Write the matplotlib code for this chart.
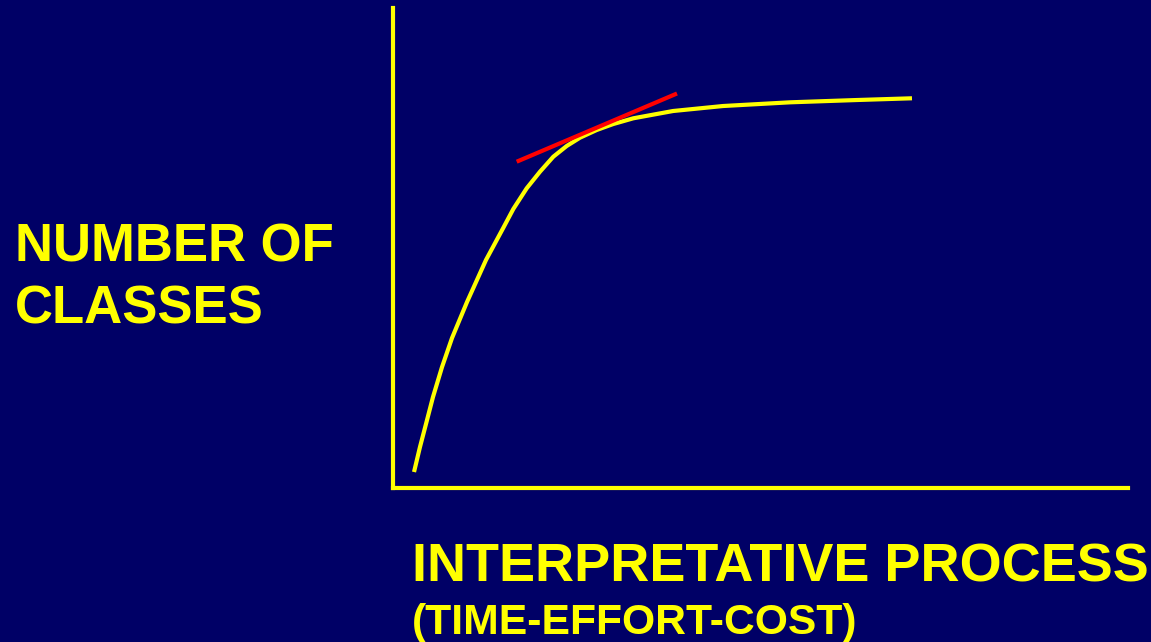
import matplotlib
matplotlib.use("Agg")
import matplotlib.pyplot as plt

# curve (x: effort, y: classes, both 0-100 along the axes)
effort = [2.86, 3.67, 4.63, 5.44, 6.67, 8.03, 10.07, 12.65, 14.97, 16.37, 18.19, 20.00,
          21.81, 23.63, 25.44, 27.71, 29.97, 32.69, 38.10, 44.90, 54.01, 63.13, 70.61]
classes = [3.33, 8.54, 14.17, 18.96, 25.21, 31.25, 38.75, 47.50, 54.10, 58.13, 62.44, 65.90,
           69.02, 71.25, 72.98, 74.58, 75.83, 77.02, 78.54, 79.58, 80.35, 80.83, 81.19]

# red tangent line
tangent_x = [16.83, 38.64]
tangent_y = [67.98, 82.19]

bg = "#000066"
yellow = "#ffff00"

plt.rcParams['font.family'] = ['Liberation Sans', 'DejaVu Sans']

fig = plt.figure(figsize=(11.51, 6.42), dpi=100, facecolor=bg)
ax = fig.add_axes([393 / 1151, (642 - 488) / 642, (1128 - 393) / 1151, (488 - 8) / 642])
ax.set_facecolor(bg)
ax.set_xlim(0, 100)
ax.set_ylim(0, 100)

ax.plot(effort, classes, color=yellow, lw=3, solid_capstyle='butt', solid_joinstyle='round')
ax.plot(tangent_x, tangent_y, color="#ff0000", lw=3, solid_capstyle='butt')

for side in ['top', 'right']:
    ax.spines[side].set_visible(False)
for side in ['left', 'bottom']:
    ax.spines[side].set_color(yellow)
    ax.spines[side].set_linewidth(3)
    ax.spines[side].set_capstyle('projecting')
ax.set_xticks([])
ax.set_yticks([])

# labels
fig.text(15 / 1151, 1 - 262 / 642, "NUMBER OF", color=yellow, fontsize=38, fontweight='bold', va='baseline')
fig.text(15 / 1151, 1 - 323 / 642, "CLASSES", color=yellow, fontsize=38, fontweight='bold', va='baseline')
fig.text(412 / 1151, 1 - 582 / 642, "INTERPRETATIVE PROCESS", color=yellow, fontsize=38.9,
         fontweight='bold', va='baseline')
fig.text(412 / 1151, 1 - 634 / 642, "(TIME-EFFORT-COST)", color=yellow, fontsize=30.7,
         fontweight='bold', va='baseline')

fig.savefig("out.png", dpi=100, facecolor=bg)
